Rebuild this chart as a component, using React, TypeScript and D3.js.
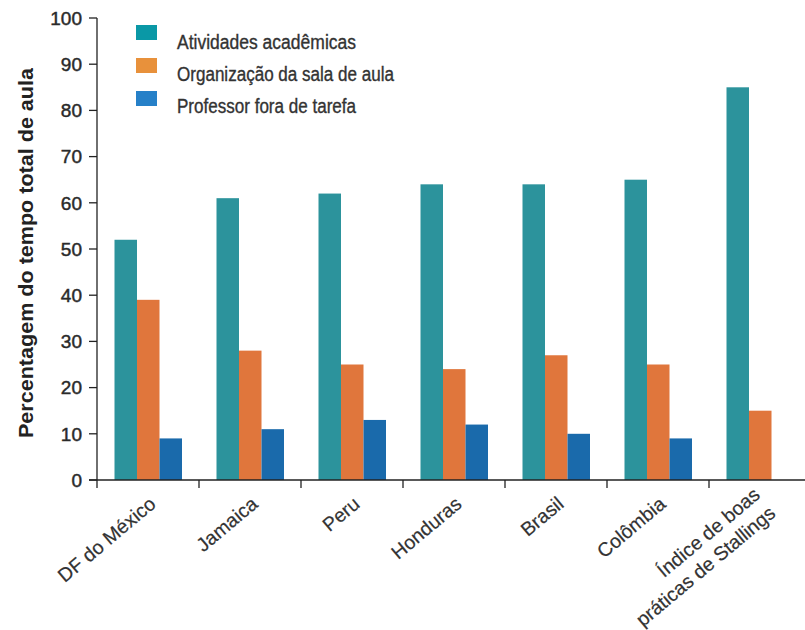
import React from "react";
import * as d3 from "d3";

const categories = ["DF do México", "Jamaica", "Peru", "Honduras", "Brasil", "Colômbia", "Índice de boas|práticas de Stallings"];
const series = ["Atividades acadêmicas", "Organização da sala de aula", "Professor fora de tarefa"];
const academic = [52, 61, 62, 64, 64, 65, 85];
const organization = [39, 28, 25, 24, 27, 25, 15];
const offTask = [9, 11, 13, 12, 10, 9, 0];
const yTicks = [0, 10, 20, 30, 40, 50, 60, 70, 80, 90, 100];

const barColors = ["#2c939c", "#e0763c", "#1a6aab"];
const legendColors = ["#0a98a6", "#e8913b", "#2680c8"];
const legendWidths = [179, 217, 179];

export default function App() {
  const W = 805, H = 630;
  const x0 = d3.scaleBand<string>().domain(categories).range([97, 811]).padding(0);
  const x1 = d3.scaleBand<string>().domain(series).range([17.5, 85]).padding(0);
  const y = d3.scaleLinear().domain([0, 100]).range([480, 18]);
  const values = [academic, organization, offTask];
  const bw = x0.bandwidth();
  const ang = 40;
  const rad = (ang * Math.PI) / 180;

  return (
    <svg width={W} height={H} style={{ position: "absolute", left: 0, top: 0, background: "#fff" }}>
      {categories.map((c, ci) => (
        <g key={c} transform={`translate(${x0(c)},0)`}>
          {series.map((s, si) => {
            const v = values[si][ci];
            if (!v) return null;
            return (
              <rect key={s} x={x1(s)} y={y(v)} width={x1.bandwidth()} height={y(0) - y(v)} fill={barColors[si]} />
            );
          })}
        </g>
      ))}
      <line x1={97} x2={97} y1={y(100)} y2={y(0)} stroke="#222" strokeWidth={1.3} />
      {yTicks.map((t) => (
        <g key={t}>
          <line x1={89} x2={97} y1={y(t)} y2={y(t)} stroke="#222" strokeWidth={1.3} />
          <text x={82} y={y(t)} dy="0.36em" textAnchor="end" fontFamily="Liberation Sans, Arial, sans-serif" fontSize={19} fill="#2a2a2a" stroke="#2a2a2a" strokeWidth={0.45}>
            {t}
          </text>
        </g>
      ))}
      <line x1={89} x2={W} y1={y(0)} y2={y(0)} stroke="#222" strokeWidth={1.3} />
      {categories.map((c) => (
        <line key={c} x1={x0(c)!} x2={x0(c)!} y1={y(0)} y2={y(0) + 8} stroke="#222" strokeWidth={1.3} />
      ))}
      {categories.map((c) => {
        const lines = c.split("|");
        const cx = x0(c)! + bw / 2 + 9;
        const cy = 506;
        const lh = 24;
        return lines.map((ln, li) => {
          const k = (li - (lines.length - 1) / 2) * lh;
          const ox = k * Math.sin(rad);
          const oy = k * Math.cos(rad);
          return (
            <text
              key={c + li}
              transform={`translate(${cx + ox},${cy + oy}) rotate(-${ang})`}
              textAnchor="end"
              fontFamily="Liberation Sans, Arial, sans-serif"
              fontSize={19.5}
              fill="#333"
              stroke="#333"
              strokeWidth={0.2}
            >
              {ln}
            </text>
          );
        });
      })}
      <text
        transform={`translate(33,253) rotate(-90)`}
        textAnchor="middle"
        fontFamily="Liberation Sans, Arial, sans-serif"
        fontWeight="bold"
        fontSize={20}
        fill="#222"
        textLength={370}
        lengthAdjust="spacingAndGlyphs"
      >
        Percentagem do tempo total de aula
      </text>
      {series.map((s, i) => (
        <g key={s}>
          <rect x={136} y={25 + 33 * i} width={21} height={15} fill={legendColors[i]} />
          <text
            x={177}
            y={49 + 32 * i}
            fontFamily="Liberation Sans, Arial, sans-serif"
            fontSize={19.5}
            fill="#333"
            stroke="#333"
            strokeWidth={0.35}
            textLength={legendWidths[i]}
            lengthAdjust="spacingAndGlyphs"
          >
            {s}
          </text>
        </g>
      ))}
    </svg>
  );
}
